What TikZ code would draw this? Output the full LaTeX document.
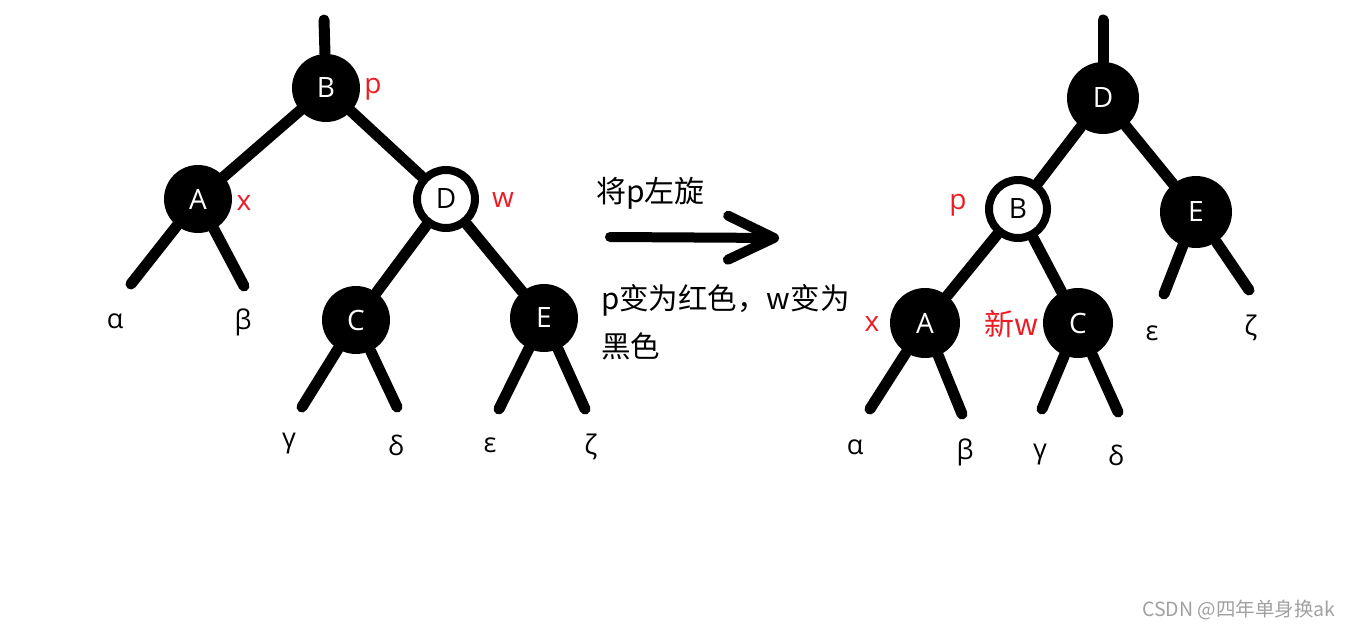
\documentclass[tikz,border=0pt]{standalone}
\usepackage{fontspec}
\setmainfont{Open Sans}
\newfontfamily\cjk{Noto Sans CJK SC}
\usetikzlibrary{arrows.meta}
\definecolor{LblClr}{RGB}{237,28,36}
\definecolor{MarkClr}{RGB}{160,160,160}

\begin{document}
\begin{tikzpicture}[x=1pt,y=-1pt,
  blk/.style={circle,fill=black,text=white,minimum size=68pt,inner sep=0pt,font=\fontsize{28}{30}\selectfont},
  wht/.style={circle,draw=black,line width=8pt,fill=white,text=black,minimum size=58pt,inner sep=0pt,font=\fontsize{28}{30}\selectfont},
  edge/.style={line width=11pt,line cap=round},
  lbl/.style={text=LblClr,inner sep=0pt,font=\fontsize{28}{30}\selectfont},
  leaf/.style={inner sep=0pt,font=\fontsize{27}{30}\selectfont}]
\useasboundingbox (0,0) rectangle (1350,629);

\node[blk] (BL) at (326,88) {B};
\node[blk] (AL) at (198,199) {A};
\node[wht] (DL) at (446,199) {D};
\node[blk] (CL) at (356,320) {C};
\node[blk] (EL) at (544,318) {E};

\coordinate (topL) at (324,20);
\coordinate (aL1) at (131,284);
\coordinate (aL2) at (244,286);
\coordinate (cL1) at (302,407);
\coordinate (cL2) at (397,407);
\coordinate (eL1) at (499,409);
\coordinate (eL2) at (585,409);

\draw[edge] (topL) -- (BL);
\draw[edge] (BL) -- (AL);
\draw[edge] (BL) -- (DL);
\draw[edge] (DL) -- (CL);
\draw[edge] (DL) -- (EL);
\draw[edge] (AL) -- (aL1);
\draw[edge] (AL) -- (aL2);
\draw[edge] (CL) -- (cL1);
\draw[edge] (CL) -- (cL2);
\draw[edge] (EL) -- (eL1);
\draw[edge] (EL) -- (eL2);

\node[lbl] (pL) at (373,89) {p};
\node[lbl] (xL) at (244,203) {x};
\node[lbl] (wL) at (503,200) {w};

\node[leaf] (alL) at (115,321) {α};
\node[leaf] (beL) at (243,322) {β};
\node[leaf] (gaL) at (289,444) {γ};
\node[leaf] (deL) at (396,445) {δ};
\node[leaf] (epL) at (490,445) {ε};
\node[leaf] (zeL) at (591,447) {ζ};

\coordinate (arrS) at (610,237);
\coordinate (arrE) at (779,238);
\draw[line width=10pt,line cap=round,-{Straight Barb[length=46pt,width=44pt,line cap=round,line join=round]}] (arrS) -- (arrE);

\node[anchor=west,inner sep=0pt,font=\cjk\fontsize{30}{30}\selectfont] (rot) at (596,193) {将p左旋};
\node[anchor=west,align=left,inner sep=0pt,font=\cjk\fontsize{29.5}{48}\selectfont] (col) at (601,322) {p变为红色，w变为\\黑色};

\node[blk,minimum size=72pt] (DR) at (1103,98) {D};
\node[wht] (BR) at (1018,209) {B};
\node[blk,minimum size=72pt] (ER) at (1196,212) {E};
\node[blk,minimum size=70pt] (AR) at (925,323) {A};
\node[blk,minimum size=70pt] (CR) at (1078,323) {C};

\coordinate (topR) at (1103,20);
\coordinate (aR1) at (870,409);
\coordinate (aR2) at (962,414);
\coordinate (cR1) at (1042,409);
\coordinate (cR2) at (1118,412);
\coordinate (eR1) at (1164,294);
\coordinate (eR2) at (1249,290);

\draw[edge] (topR) -- (DR);
\draw[edge] (DR) -- (BR);
\draw[edge] (DR) -- (ER);
\draw[edge] (BR) -- (AR);
\draw[edge] (BR) -- (CR);
\draw[edge] (AR) -- (aR1);
\draw[edge] (AR) -- (aR2);
\draw[edge] (CR) -- (cR1);
\draw[edge] (CR) -- (cR2);
\draw[edge] (ER) -- (eR1);
\draw[edge] (ER) -- (eR2);

\node[lbl] (pR) at (958,205) {p};
\node[lbl] (xR) at (872,324) {x};
\node[lbl,font=\cjk\fontsize{30}{30}\selectfont] (wR) at (1012,324) {新w};

\node[leaf] (alR) at (855,447) {α};
\node[leaf] (beR) at (965,452) {β};
\node[leaf] (gaR) at (1040,455) {γ};
\node[leaf] (deR) at (1116,455) {δ};
\node[leaf] (epR) at (1152,333) {ε};
\node[leaf] (zeR) at (1251,328) {ζ};

\node[text=MarkClr,font=\cjk\fontsize{19.5}{20}\selectfont] (mark) at (1239,610) {CSDN @四年单身换ak};
\end{tikzpicture}
\end{document}
